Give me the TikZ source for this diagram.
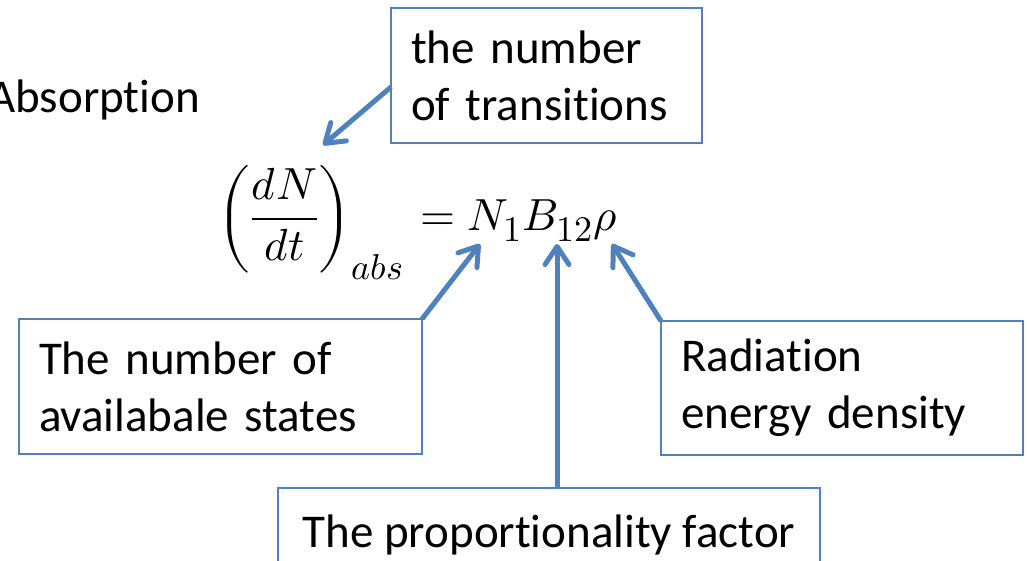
\documentclass[tikz,border=0pt]{standalone}
\usepackage{fontspec}
\usepackage{unicode-math}
\setmainfont{Carlito}[Ligatures=NoCommon]
\DeclareMathSizes{45}{45}{36}{29}
\usetikzlibrary{arrows.meta}
\definecolor{boxblue}{RGB}{79,129,189}

\begin{document}
\begin{tikzpicture}[x=1pt, y=-1pt,
    every node/.style={font=\fontsize{47}{57}\selectfont},
    lbl/.style={draw=boxblue, line width=2pt, outer sep=0pt, inner xsep=20pt,
                anchor=north west},
    eq/.style={inner sep=0pt, font=\fontsize{45}{55}\selectfont},
    arr/.style={boxblue, line width=5pt,
                -{Straight Barb[length=18pt, width=24pt, round]}}
  ]
  \clip (0,0) rectangle (1027,560);
  % heading
  \node[anchor=base west, inner sep=0pt] (head) at (-12,112) {Absorption};
  % equation
  \node[eq, anchor=base east] (lhs) at (404,230)
    {$\displaystyle\left(\frac{dN}{dt}\right)_{abs}$};
  \node[eq, anchor=base west] (rhs) at (420,230) {$=N_1B_{12}\rho$};
  % arrow tips at the symbols
  \coordinate (tdN) at (323,145);
  \coordinate (tN) at (480,244);
  \coordinate (tB) at (557,244);
  \coordinate (trho) at (612,244);
  % label boxes
  \node[lbl, align=left, text width=271pt, minimum width=311pt, minimum height=135pt]
    (trans) at (391,8) {the number\\of transitions};
  \node[lbl, align=left, text width=363pt, minimum width=403pt, minimum height=135pt]
    (states) at (19,319) {The number of\\availabale states};
  \node[lbl, align=left, text width=322pt, minimum width=362pt, minimum height=134pt]
    (energy) at (661,321) {Radiation\\energy density};
  \node[lbl, text height=33pt, text depth=10pt, minimum width=542pt, minimum height=95pt]
    (factor) at (278,488) {The proportionality factor};
  % connectors
  \draw[arr] ([yshift=-11.5pt]trans.west) -- (tdN);
  \draw[arr] (states.north east) -- (tN);
  \draw[arr] ([xshift=8pt]factor.north) -- (tB);
  \draw[arr] (energy.north west) -- (trho);
\end{tikzpicture}
\end{document}
